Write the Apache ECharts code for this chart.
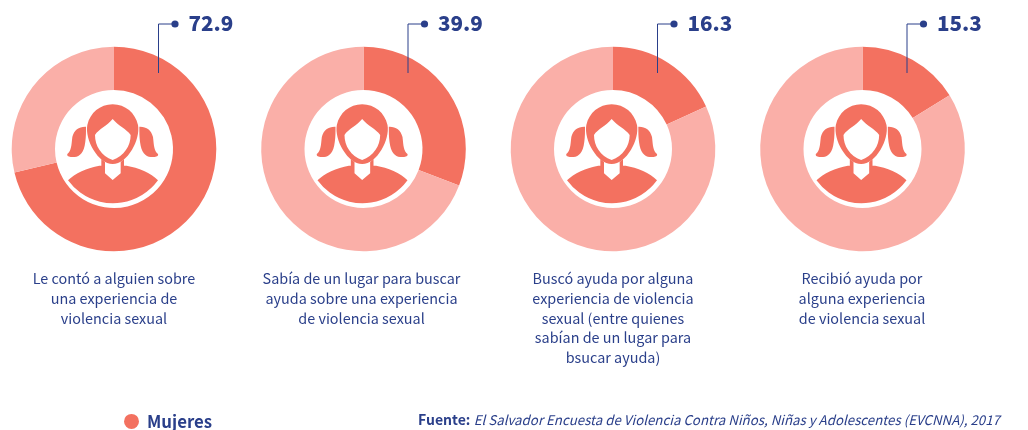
<!DOCTYPE html>
<html><head><meta charset="utf-8">
<style>html,body{margin:0;padding:0;background:#fff}#c{width:1028px;height:430px}</style>
<script src="https://cdn.jsdelivr.net/npm/echarts@6/dist/echarts.min.js"></script>
</head><body><div id="c"></div>
<script>
// Printed values, as labelled in the reference.
const printedValues = [72.9, 39.9, 16.3, 15.3];
// Slice shares as actually drawn in the reference (measured from slice angles; they differ from the printed labels).
const drawnShares = [71.3, 30.8, 18.2, 16.2];
const categories = [
  'Le contó a alguien sobre\nuna experiencia de\nviolencia sexual',
  'Sabía de un lugar para buscar\nayuda sobre una experiencia\nde violencia sexual',
  'Buscó ayuda por alguna\nexperiencia de violencia\nsexual (entre quienes\nsabían de un lugar para\nbsucar ayuda)',
  'Recibió ayuda por\nalguna experiencia\nde violencia sexual'
];
const seriesName = 'Mujeres';
const restName = 'Resto';
const sourceBold = 'Fuente:';
const sourceText = 'El Salvador Encuesta de Violencia Contra Niños, Niñas y Adolescentes (EVCNNA), 2017';

const centersX = [114, 363.5, 613, 862.5], centerY = 149;
const textCentersX = [114, 361.5, 613, 862];
const DARK = '#F37160', LIGHT = '#FAAFA8', NAVY = '#2A3F8A';
const FONT = '"Noto Sans CJK SC","Noto Sans",sans-serif';

// Icon outlines, drawn around (0,0) at 3x scale.
const iconPaths = {
  iconHair: ['M-4,-134 C-42,-134 -72,-108 -80,-72 C-84,-50 -76,-20 -62,2 C-46,28 -26,45 -4,45 C18,45 38,28 54,2 C68,-20 76,-50 72,-72 C64,-108 34,-134 -4,-134 Z', DARK],
  iconPigL: ['M-84,-67 C-104,-68 -120,-58 -125,-36 C-128,-10 -128,6 -140,15 C-142,20 -138,23 -130,24 C-112,26 -94,20 -88,-10 C-85,-25 -84,-40 -84,-55 Z', DARK],
  iconPigR: ['M76,-67 C96,-68 112,-58 117,-36 C120,-10 120,6 132,15 C134,20 130,23 122,24 C104,26 86,20 80,-10 C77,-25 76,-40 76,-55 Z', DARK],
  iconFace: ['M-4,-90 C-20,-70 -46,-60 -57,-42 C-57,-10 -38,22 -4,33 C30,22 50,-10 50,-42 C38,-60 12,-70 -4,-90 Z', '#fff'],
  iconBody: ['M-138,94 C-118,74 -80,56 -44,50 L-38,50 L-38,31 L-27,39 L-27,73 L-4,93 L20,73 L20,39 L30,31 L30,50 L38,50 C72,56 112,72 132,94 A167,167 0 0 1 -138,94 Z', DARK]
};
Object.keys(iconPaths).forEach(k => {
  echarts.graphic.registerShape(k, echarts.graphic.extendPath(iconPaths[k][0], {}));
});

const graphic = [];
centersX.forEach((cx, i) => {
  Object.keys(iconPaths).forEach(k => {
    graphic.push({type:k, x:cx, y:centerY, scaleX:1/3, scaleY:1/3, z:20, silent:true, style:{fill:iconPaths[k][1]}});
  });
  graphic.push({type:'polyline', z:30, silent:true,
    shape:{points:[[cx+44.5,73],[cx+44.5,24],[cx+60,24]]},
    style:{stroke:NAVY, lineWidth:1, fill:null}});
  graphic.push({type:'circle', z:30, silent:true, shape:{cx:cx+61, cy:24, r:3.6}, style:{fill:NAVY}});
  graphic.push({type:'text', z:30, x:cx+74.5, y:23, silent:true,
    style:{text:printedValues[i].toFixed(1), font:'900 20.6px '+FONT, fill:NAVY, verticalAlign:'middle', textAlign:'left'}});
  graphic.push({type:'text', z:30, x:textCentersX[i], y:269, silent:true,
    style:{text:categories[i], font:'400 14.4px '+FONT, lineHeight:19.7, fill:NAVY, textAlign:'center', verticalAlign:'top'}});
});
graphic.push({type:'text', x:1028-28, y:420, silent:true,
  style:{rich:{b:{font:'700 14px '+FONT, fill:NAVY},i:{font:'italic 400 13.3px '+FONT, fill:NAVY}},
    text:'{b|'+sourceBold+'} {i|'+sourceText+'}', textAlign:'right', verticalAlign:'middle'}});

const series = drawnShares.map((v, i) => ({
  type:'pie', radius:[59, 102.3], center:[centersX[i], centerY], startAngle:90, clockwise:true,
  silent:true, animation:false, label:{show:false}, labelLine:{show:false},
  data:[{name:seriesName, value:v, itemStyle:{color:DARK}},
        {name:restName, value:100-v, itemStyle:{color:LIGHT}}]
}));

const chart = echarts.init(document.getElementById('c'), null, {renderer:'canvas'});
chart.setOption({
  animation:false,
  backgroundColor:'#fff',
  legend:{data:[seriesName], left:124, top:408, padding:[5,5,5,0], icon:'circle', itemWidth:15, itemHeight:15, itemGap:8,
    selectedMode:false, textStyle:{color:NAVY, fontFamily:FONT, fontWeight:700, fontSize:16.8, padding:[0,0,0,3]}},
  series, graphic
});
</script></body></html>
